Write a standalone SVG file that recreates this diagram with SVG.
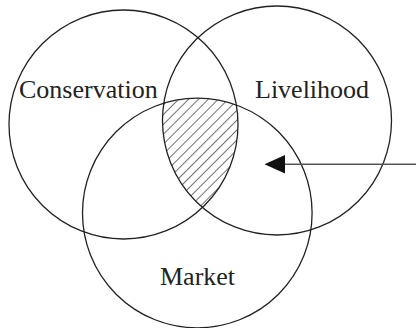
<svg xmlns="http://www.w3.org/2000/svg" width="416" height="328" viewBox="0 0 416 328">
<style>
.c{fill:none;stroke:#222;stroke-width:1.3}
.t{font-family:"Liberation Serif","Times New Roman",serif;font-size:26px;fill:#222}
</style>
<defs>
<pattern id="hatch" patternUnits="userSpaceOnUse" width="7" height="7" patternTransform="rotate(45)">
<line x1="0" y1="0" x2="0" y2="7" stroke="#111" stroke-width="1.2"/>
</pattern>
<clipPath id="cA"><circle cx="123.5" cy="124.5" r="114.5"/></clipPath>
<clipPath id="cB"><circle cx="277" cy="120.5" r="114.5"/></clipPath>
<clipPath id="cC"><circle cx="197.3" cy="213" r="114.8"/></clipPath>
</defs>
<rect width="416" height="328" fill="#fff"/>
<g id="hatched" clip-path="url(#cA)">
<g clip-path="url(#cB)">
<rect x="0" y="0" width="416" height="328" fill="url(#hatch)" clip-path="url(#cC)"/>
</g>
</g>
<g id="conservation">
<circle class="c" cx="123.5" cy="124.5" r="114.5"/>
<text class="t" x="19" y="97.5">Conservation</text>
</g>
<g id="livelihood">
<circle class="c" cx="277" cy="120.5" r="114.5"/>
<text class="t" x="255" y="97.5">Livelihood</text>
</g>
<g id="market">
<circle class="c" cx="197.3" cy="213" r="114.8"/>
<text class="t" x="160" y="285">Market</text>
</g>
<g id="connectors">
<line x1="416" y1="164.3" x2="283" y2="164.3" stroke="#555" stroke-width="1.5"/>
<polygon points="264.5,164.3 285,155 285,173.5" fill="#111"/>
</g>
</svg>
